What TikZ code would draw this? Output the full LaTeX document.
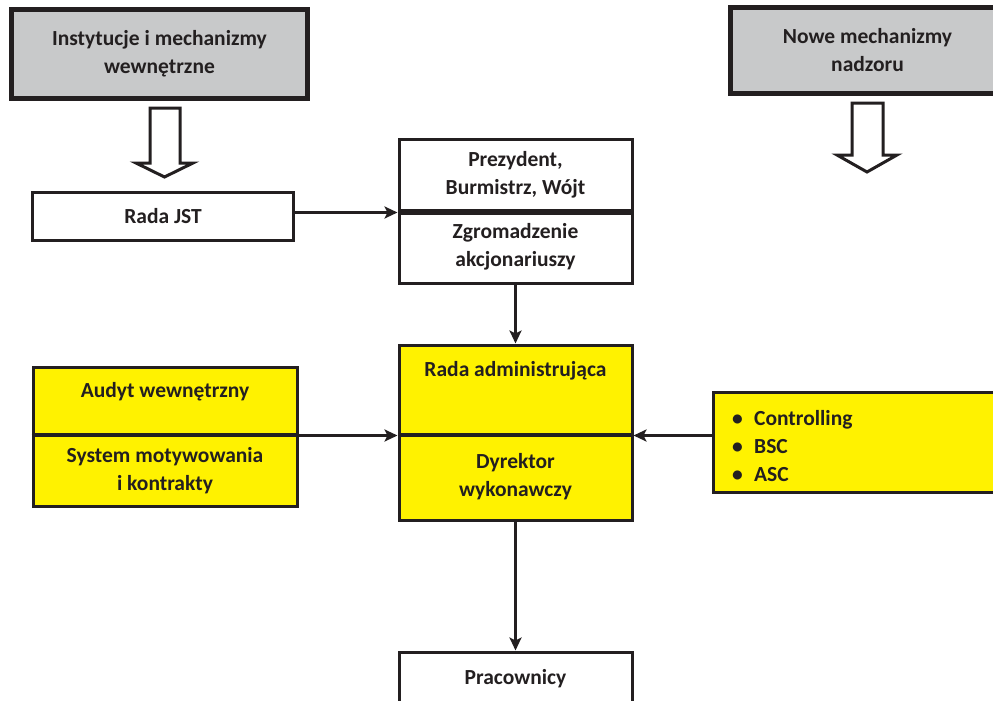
\documentclass[tikz,border=0pt]{standalone}
\usepackage{fontspec}
\setmainfont{Carlito}
\usetikzlibrary{arrows.meta}
\definecolor{ink}{HTML}{231F20}
\definecolor{boxgray}{HTML}{C8C9CA}
\definecolor{boxyellow}{HTML}{FFF200}
\begin{document}
\begin{tikzpicture}[x=1pt,y=-1pt,
  base/.style={draw=ink, line width=3pt, inner sep=0pt, align=center,
    text=ink, font=\bfseries\fontsize{21.5}{28}\selectfont},
  graybox/.style={base, line width=5pt, fill=boxgray},
  whitebox/.style={base, fill=white},
  yellowbox/.style={base, fill=boxyellow},
  txt/.style={inner sep=0pt, align=center, text=ink, font=\bfseries\fontsize{21.5}{28}\selectfont},
  conn/.style={draw=ink, line width=3pt, -{Stealth[length=13pt,width=12pt,inset=3pt]}},
  hollow/.style={draw=ink, line width=3pt, fill=white, line join=miter}]
\clip (0,0) rectangle (993,701);
\fill[white] (0,0) rectangle (993,701);

% top gray boxes
\node[graybox, minimum width=296pt, minimum height=88pt] (inst) at (159.5,54) {Instytucje i mechanizmy\\wewnętrzne};
\node[graybox, minimum width=275pt, minimum height=85pt] (nowe) at (867.5,50.5) {Nowe mechanizmy\\nadzoru};

% hollow arrows
\draw[hollow] (150,108) -- (180,108) -- (180,163) -- (193,163) -- (164.5,177) -- (136,163) -- (150,163) -- cycle;
\draw[hollow] (852,103) -- (883,103) -- (883,155) -- (897,155) -- (867,172) -- (837,155) -- (852,155) -- cycle;

% Rada JST
\node[whitebox, minimum width=261pt, minimum height=48pt] (rada) at (163,216) {Rada JST};

% centre top box
\node[whitebox, minimum width=233pt, minimum height=72pt] (prez) at (515.5,175) {Prezydent,\\Burmistrz, Wójt};
\node[whitebox, minimum width=233pt, minimum height=73pt] (zgrom) at (515.5,246.5) {Zgromadzenie\\akcjonariuszy};
\draw[ink, line width=4pt] (prez.south west) -- (prez.south east);

% centre yellow box
\node[yellowbox, minimum width=233pt, minimum height=89pt] (radm) at (515.5,389.5) {};
\node[txt] (radmt) at (515.5,371) {Rada administrująca};
\node[yellowbox, minimum width=233pt, minimum height=86pt] (dyr) at (515.5,477) {Dyrektor\\wykonawczy};
\draw[ink, line width=3pt] (radm.south west) -- (radm.south east);

% left yellow box
\node[yellowbox, minimum width=264pt, minimum height=67pt] (audyt) at (165,400.5) {};
\node[txt] (audytt) at (165,392) {Audyt wewnętrzny};
\node[yellowbox, minimum width=264pt, minimum height=71pt] (sys) at (165,470.5) {System motywowania\\i kontrakty};
\draw[ink, line width=3pt] (audyt.south west) -- (audyt.south east);

% right yellow box
\node[yellowbox, minimum width=292pt, minimum height=100pt] (ctrl) at (859,442) {};
\node[txt, align=left, anchor=west] (ctrlt) at (732,446)
  {\makebox[22pt][l]{•}Controlling\\\makebox[22pt][l]{•}BSC\\\makebox[22pt][l]{•}ASC};

% Pracownicy
\node[whitebox, minimum width=233pt, minimum height=54pt] (prac) at (515.5,679) {Pracownicy};

% connectors
\draw[conn] (rada.east |- prez.south west) -- (prez.south west);
\draw[conn] (zgrom.south) -- (radm.north);
\draw[conn] (audyt.south east) -- (radm.south west);
\draw[conn] (ctrl.west |- radm.south east) -- (radm.south east);
\draw[conn] (dyr.south) -- (prac.north);
\end{tikzpicture}
\end{document}
